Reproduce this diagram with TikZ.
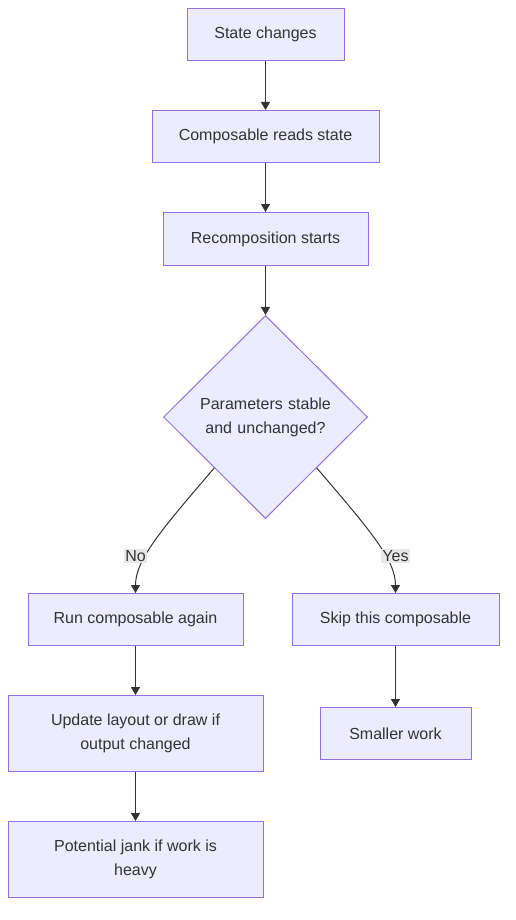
\documentclass[tikz,border=0pt]{standalone}
\usepackage{fontspec}
\setmainfont{Liberation Sans}
\usetikzlibrary{shapes.geometric,arrows.meta}
\definecolor{nodefill}{HTML}{ECECFF}
\definecolor{nodeline}{HTML}{9370DB}
\definecolor{txt}{HTML}{333333}
\definecolor{edgec}{HTML}{333333}
\definecolor{lblbg}{HTML}{E8E8E8}
\begin{document}
\begin{tikzpicture}[x=1pt,y=-1pt,
  box/.style={draw=nodeline,fill=nodefill,line width=1pt,text=txt,inner sep=0pt,align=center,
    font=\fontsize{16}{24}\selectfont},
  dia/.style={diamond,draw=nodeline,fill=nodefill,line width=1pt,text=txt,inner sep=0pt,align=center,
    font=\fontsize{16}{24}\selectfont,minimum width=204pt,minimum height=203pt,aspect=1,text width=140pt},
  lbl/.style={fill=lblbg,text=txt,inner sep=1.5pt,font=\fontsize{16}{20}\selectfont},
  arr/.style={draw=edgec,line width=1pt,-{Triangle[length=8pt,width=9pt]}}
]
\useasboundingbox (0,0) rectangle (515,920);
\node[box,minimum width=157pt,minimum height=52pt] (a) at (265.5,34.5) {State changes};
\node[box,minimum width=227pt,minimum height=52pt] (b) at (265.5,136.5) {Composable reads state};
\node[box,minimum width=205pt,minimum height=53pt] (c) at (265.5,239) {Recomposition starts};
\node[dia] (d) at (265.5,417) {Parameters stable\\and unchanged?};
\node[box,minimum width=215pt,minimum height=52pt] (e) at (135.5,619.5) {Run composable again};
\node[box,minimum width=207pt,minimum height=52pt] (f) at (395.5,619.5) {Skip this composable};
\node[box,minimum width=255pt,minimum height=76pt] (g) at (135.5,733.5) {Update layout or draw if\\output changed};
\node[box,minimum width=151pt,minimum height=52pt] (h) at (395.5,733.5) {Smaller work};
\node[box,minimum width=255pt,minimum height=76pt] (i) at (135.5,859.5) {Potential jank if work is\\heavy};
\coordinate (nc) at (135.5,556);
\coordinate (yc) at (395.5,556);
\draw[arr] (a) -- (b);
\draw[arr] (b) -- (c);
\draw[arr] (c) -- (d);
\draw[arr] (d.south west) .. controls +(-54,63) and +(0,-33) .. (e.north);
\draw[arr] (d.south east) .. controls +(54,63) and +(0,-33) .. (f.north);
\draw[arr] (e) -- (g);
\draw[arr] (g) -- (i);
\draw[arr] (f) -- (h);
\node[lbl] (no) at (nc) {No};
\node[lbl] (yes) at (yc) {Yes};
\end{tikzpicture}
\end{document}
